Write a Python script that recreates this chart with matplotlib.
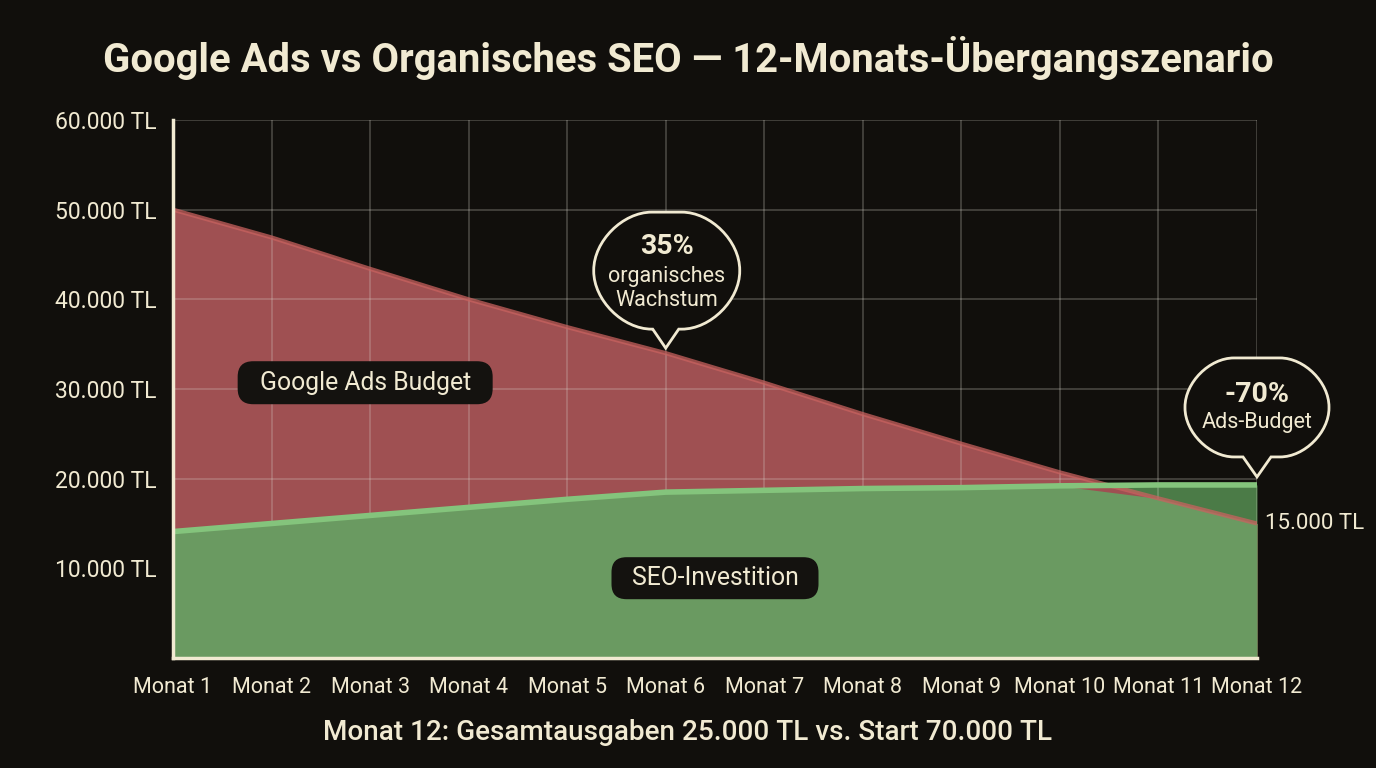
import matplotlib
matplotlib.use("Agg")
import matplotlib.pyplot as plt
import numpy as np
from matplotlib.patches import FancyBboxPatch, PathPatch
from matplotlib.path import Path
from matplotlib.transforms import Affine2D, ScaledTranslation

plt.rcParams['font.family'] = ['Roboto', 'DejaVu Sans']

# ---------------- data ----------------
months = ["Monat 1", "Monat 2", "Monat 3", "Monat 4", "Monat 5", "Monat 6",
          "Monat 7", "Monat 8", "Monat 9", "Monat 10", "Monat 11", "Monat 12"]
ads_budget = [50000, 46900, 43400, 40000, 36900, 34000, 30700, 27200, 23900, 20700, 17800, 15000]
seo_invest = [14100, 15000, 15900, 16800, 17700, 18500, 18700, 18900, 19000, 19200, 19300, 19300]
y_ticks = [10000, 20000, 30000, 40000, 50000, 60000]
y_tick_labels = ["10.000 TL", "20.000 TL", "30.000 TL", "40.000 TL", "50.000 TL", "60.000 TL"]

title = "Google Ads vs Organisches SEO — 12-Monats-Übergangszenario"
footer = "Monat 12: Gesamtausgaben 25.000 TL vs. Start 70.000 TL"

# ---------------- style ----------------
BG = "#110f0c"
CREAM = "#f1ead2"
RED_FILL = "#9f5052"
RED_LINE = "#c8625f"
GREEN_LIGHT = "#6a9a61"
GREEN_DARK = "#4b7b47"
GREEN_LINE = "#84c47c"
BOX = "#14120f"

W, H = 1376, 768
fig = plt.figure(figsize=(W / 100, H / 100), dpi=100, facecolor=BG)
ax = fig.add_axes([173 / W, 1 - 658 / H, (1257 - 173) / W, (658 - 120) / H])
ax.set_facecolor(BG)

x = np.arange(len(months))
ads = np.array(ads_budget, dtype=float)
seo = np.array(seo_invest, dtype=float)

# fills
ax.fill_between(x, 0, seo, color=GREEN_DARK, lw=0, zorder=1)
ax.fill_between(x, 0, ads, color=RED_FILL, lw=0, zorder=2)
ax.fill_between(x, 0, np.minimum(ads, seo), color=GREEN_LIGHT, lw=0, zorder=3)
ax.fill_between(x, 0, seo, where=seo <= ads, color=GREEN_LIGHT, lw=0, zorder=3, interpolate=True)

# lines
ax.plot(x, ads, color=RED_LINE, lw=3, zorder=5, alpha=0.75, solid_capstyle='butt')
ax.plot(x, seo, color=GREEN_LINE, lw=4, zorder=6, solid_capstyle='butt')

# axes & grid
ax.set_xlim(0, len(months) - 1)
ax.set_ylim(0, 60000)
ax.set_xticks(x)
ax.set_xticklabels(months)
ax.set_yticks(y_ticks)
ax.set_yticklabels(y_tick_labels)
ax.grid(True, color="#d8d6cc", alpha=0.28, lw=1.2)
ax.set_axisbelow(False)
for gl in ax.get_xgridlines() + ax.get_ygridlines():
    gl.set_zorder(4)

ax.tick_params(axis='both', length=0, colors=CREAM)
ax.tick_params(axis='x', pad=14, labelsize=15.5)
ax.tick_params(axis='y', pad=12, labelsize=16.5)
for s in ['top', 'right']:
    ax.spines[s].set_visible(False)
for s in ['left', 'bottom']:
    ax.spines[s].set_color(CREAM)
    ax.spines[s].set_linewidth(2.5)
    ax.spines[s].set_zorder(8)

# title & footer
fig.text(0.5, 1 - 58 / H, title, ha='center', va='center', color=CREAM,
         fontsize=28.8, fontweight='bold')
fig.text(0.5, 1 - 733 / H, footer, ha='center', va='center', color=CREAM,
         fontsize=20.1, fontweight='medium')


def anchored(xd, yd):
    return Affine2D() + ScaledTranslation(xd, yd, ax.transData)


def pill(xd, yd, w, h, text, fs):
    tr = anchored(xd, yd)
    p = FancyBboxPatch((-w / 2, -h / 2), w, h,
                       boxstyle=f"round,pad=0,rounding_size={h / 2 - 6}",
                       fc=BOX, ec='none', transform=tr, zorder=9, clip_on=False)
    ax.add_patch(p)
    ax.text(0, 0, text, transform=tr, ha='center', va='center', color=CREAM,
            fontsize=fs, zorder=10)


def bubble(xd, yd, lift, x0, x1, y0, y1, half, r, texts, k=0.5):
    tr = anchored(xd, yd)
    y0 += lift
    y1 += lift
    tip = lift
    M, L, C = Path.MOVETO, Path.LINETO, Path.CURVE4
    verts = [(half, y0), (x1 - r, y0),
             (x1 - r + k * r, y0), (x1, y0 + r - k * r), (x1, y0 + r),
             (x1, y1 - r),
             (x1, y1 - r + k * r), (x1 - r + k * r, y1), (x1 - r, y1),
             (x0 + r, y1),
             (x0 + r - k * r, y1), (x0, y1 - r + k * r), (x0, y1 - r),
             (x0, y0 + r),
             (x0, y0 + r - k * r), (x0 + r - k * r, y0), (x0 + r, y0),
             (-half, y0), (0, tip), (half, y0), (half, y0)]
    codes = [M, L, C, C, C, L, C, C, C, L, C, C, C, L, C, C, C, L, L, L, Path.CLOSEPOLY]
    p = PathPatch(Path(verts, codes), fc=BG, ec=CREAM, lw=2, joinstyle='miter',
                  transform=tr, zorder=11, clip_on=False)
    ax.add_patch(p)
    for (ty, t, fs, fw) in texts:
        ax.text((x0 + x1) / 2, ty + lift, t, transform=tr, ha='center', va='center',
                color=CREAM, fontsize=fs, fontweight=fw, zorder=14)


# in-plot labels
pill(1.95, 30700, 255, 43, "Google Ads Budget", 17.8)
pill(5.5, 8900, 207, 42, "SEO-Investition", 17.8)

# bubbles
bubble(5, ads[5], 5, -72, 74, 19, 136, 13, 58,
       [(102, "35%", 20.5, 'bold'), (72, "organisches", 15.5, 'normal'),
        (48, "Wachstum", 15.5, 'normal')])
bubble(11, seo[11], 8, -72, 72, 20, 119, 14, 49,
       [(82, "-70%", 20.5, 'bold'), (54, "Ads-Budget", 15.5, 'normal')])

# end label
ax.annotate("15.000 TL", (11, ads[11]), xytext=(8, 0), textcoords='offset pixels',
            ha='left', va='center', color=CREAM, fontsize=16, annotation_clip=False)

fig.savefig("out.png", dpi=100, facecolor=BG)
